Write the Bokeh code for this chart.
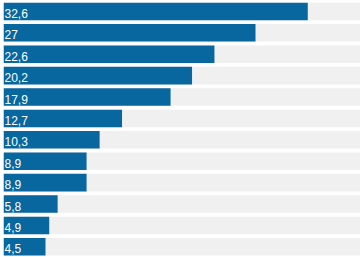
from bokeh.plotting import figure
from bokeh.models import Range1d, ColumnDataSource
from bokeh.core.properties import value
from bokeh.embed import file_html
from bokeh.resources import INLINE

values = [32.6, 27, 22.6, 20.2, 17.9, 12.7, 10.3, 8.9, 8.9, 5.8, 4.9, 4.5]
labels = ["32,6", "27", "22,6", "20,2", "17,9", "12,7", "10,3", "8,9", "8,9", "5,8", "4,9", "4,5"]
bg_max = 38.25

pos = list(range(len(values)))
src = ColumnDataSource(dict(y=pos, v=values, lab=labels, bg=[bg_max] * len(values)))

p = figure(width=360, height=257, output_backend="svg", toolbar_location=None,
           x_range=Range1d(0, bg_max), y_range=Range1d(11.5, -0.51),
           min_border_left=3, min_border_right=0, min_border_top=0, min_border_bottom=0)
p.axis.visible = False
p.grid.visible = False
p.outline_line_color = None
p.background_fill_color = "white"
p.border_fill_color = "white"

p.hbar(y="y", left=0, right="bg", height=0.82, source=src, fill_color="#f0f0f0", line_color=None)
p.hbar(y="y", left=0, right="v", height=0.82, source=src, fill_color="#07679e", line_color=None)
p.text(x=0, y="y", text="lab", source=src, x_offset=1, y_offset=2, text_baseline="middle",
       text_color="white", text_font=value("Liberation Sans"), text_font_size="12px")

open("out.html", "w").write(file_html(p, INLINE))
